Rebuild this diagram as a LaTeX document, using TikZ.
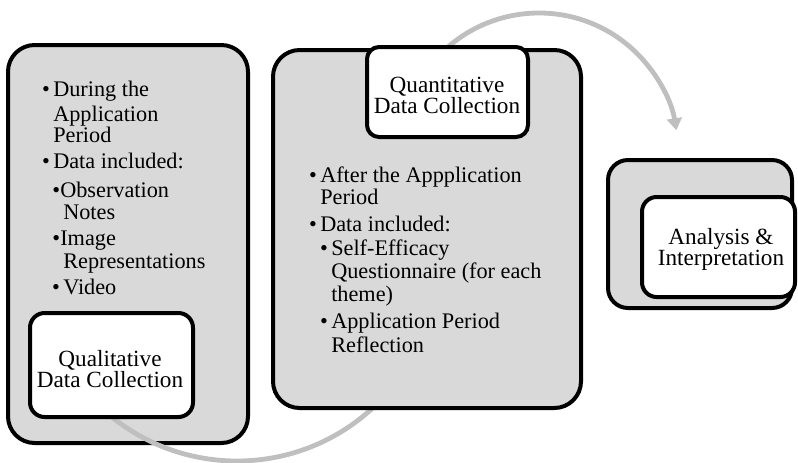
\documentclass[tikz,border=0pt]{standalone}
\usepackage{fontspec}
\setmainfont{Liberation Serif}
\usetikzlibrary{fit,arrows.meta}
\definecolor{boxgray}{HTML}{D9D9D9}
\definecolor{arcgray}{HTML}{BFBFBF}
\begin{document}
\begin{tikzpicture}[x=0.75pt,y=-0.75pt,
  graybox/.style={draw=black,line width=3pt,fill=boxgray,inner sep=0pt,rounded corners=#1},
  whitebox/.style={draw=black,line width=3pt,fill=white,inner sep=0pt,rounded corners=#1},
  flowarc/.style={draw=arcgray,line width=3.6pt},
  bodytxt/.style={anchor=base west,inner sep=0pt,font=\fontsize{16.7}{20}\selectfont},
  titletxt/.style={align=center,inner sep=0pt,font=\fontsize{17.4}{15.8}\selectfont}]
\useasboundingbox (0,0) rectangle (798,462);
% left gray box
\node[graybox=20pt, fit={(8,45) (248,443)}] (qlbox) {};
% arcs (behind the white boxes and middle box)
\coordinate (arcAc) at (237,261);
\draw[flowarc] (arcAc) ++(135:200) arc[start angle=135,end angle=45,radius=200];
\coordinate (arcBc) at (539,152);
\draw[flowarc,-{Triangle[width=11pt,length=9pt]}] (arcBc) ++(-135:139) arc[start angle=-135,end angle=-9,radius=139];
% qualitative title box
\node[whitebox=11pt, fit={(30,313) (193,417)}] (qltitle) {};
% middle gray box
\node[graybox=20pt, fit={(273,50) (581,408)}] (qnbox) {};
\node[whitebox=9pt, fit={(367,47) (528,137)}] (qntitle) {};
% right boxes
\node[graybox=15pt, fit={(608,160) (792,308)}] (anbox) {};
\node[whitebox=11pt, fit={(642,197) (795,297)}] (antitle) {};
% titles
\node[titletxt] (qlt) at (110,369) {Qualitative\\Data Collection};
\node[titletxt] (qnt) at (447,95) {Quantitative\\Data Collection};
\node[titletxt] (ant) at (721,249) {Analysis \&\\Interpretation};
% left bullets
\node[bodytxt] (l1) at (53,96) {\llap{\textbullet\hspace{2.5pt}}During the};
\node[bodytxt] (l2) at (53,121) {Application};
\node[bodytxt] (l3) at (53,142) {Period};
\node[bodytxt] (l4) at (53,168) {\llap{\textbullet\hspace{2.5pt}}Data included:};
\node[bodytxt] (l5) at (60,197) {\llap{\textbullet}Observation};
\node[bodytxt] (l6) at (63,219) {Notes};
\node[bodytxt] (l7) at (60,245) {\llap{\textbullet}Image};
\node[bodytxt] (l8) at (63,268) {Representations};
\node[bodytxt] (l9) at (63,294) {\llap{\textbullet\hspace{2.5pt}}Video};
% middle bullets
\node[bodytxt] (m1) at (320,182) {\llap{\textbullet\hspace{2.5pt}}After the Appplication};
\node[bodytxt] (m2) at (320,204) {Period};
\node[bodytxt] (m3) at (320,231) {\llap{\textbullet\hspace{2.5pt}}Data included:};
\node[bodytxt] (m4) at (331,255) {\llap{\textbullet\hspace{2.5pt}}Self-Efficacy};
\node[bodytxt] (m5) at (331,278) {Questionnaire (for each};
\node[bodytxt] (m6) at (331,301) {theme)};
\node[bodytxt] (m7) at (331,328) {\llap{\textbullet\hspace{2.5pt}}Application Period};
\node[bodytxt] (m8) at (331,352) {Reflection};
\end{tikzpicture}
\end{document}
